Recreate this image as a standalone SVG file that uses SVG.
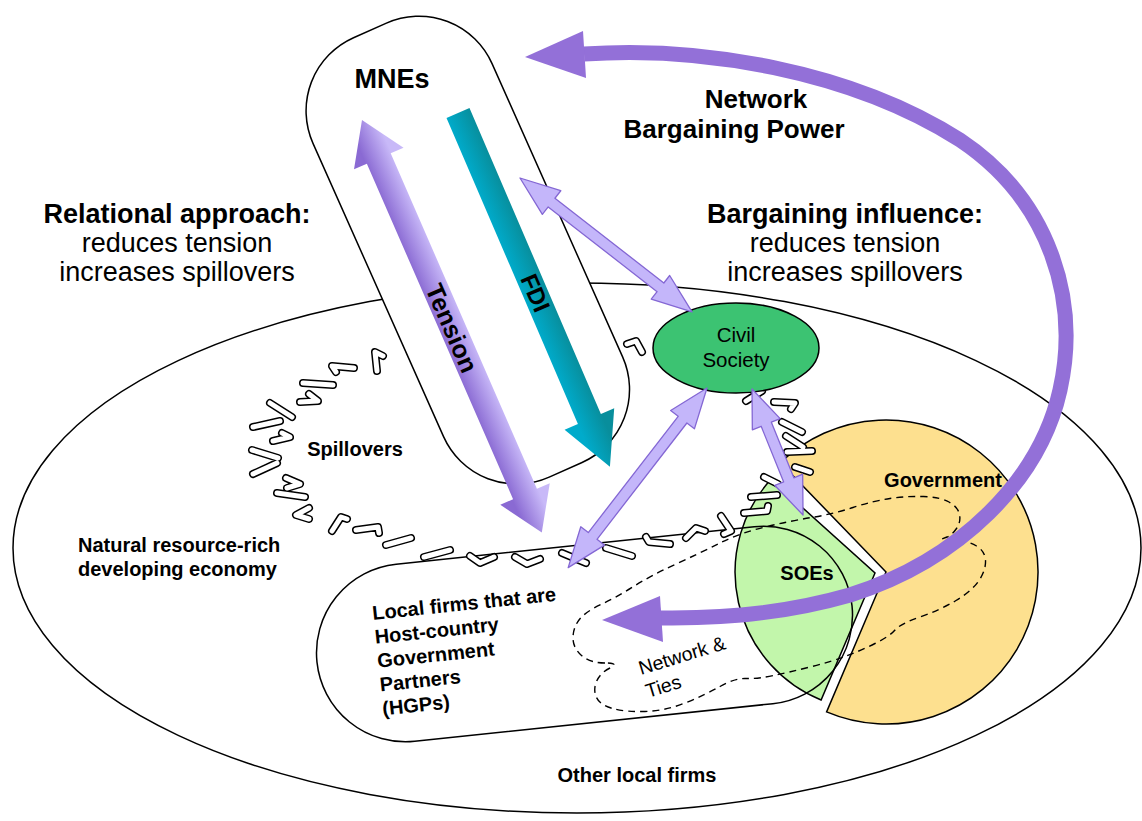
<svg xmlns="http://www.w3.org/2000/svg" xmlns:xlink="http://www.w3.org/1999/xlink" width="1142" height="821" viewBox="0 0 1142 821">
<style>
.ol{fill:none;stroke:#000;stroke-width:1.5}
.t{font-family:"Liberation Sans",Arial,Helvetica,sans-serif;fill:#000}
.b{font-weight:bold}
.dbl{fill:#C4B6FA;stroke:#8467D4;stroke-width:1.3;stroke-linejoin:round}
.spo{fill:none;stroke:#000;stroke-width:8;stroke-linecap:round;stroke-linejoin:round}
.spi{fill:none;stroke:#fff;stroke-width:5;stroke-linecap:round;stroke-linejoin:round}
</style>
<defs>
<linearGradient id="gT" gradientUnits="userSpaceOnUse" x1="0" y1="-14" x2="0" y2="14">
<stop offset="0" stop-color="#C8B9F8"/><stop offset="1" stop-color="#8A6AD3"/>
</linearGradient>
<linearGradient id="gF" gradientUnits="userSpaceOnUse" x1="0" y1="-13" x2="0" y2="13">
<stop offset="0" stop-color="#088E9C"/><stop offset="1" stop-color="#00ABCB"/>
</linearGradient>
<path id="spd" d="M377,371 L375,352 L383,356 M354,368 L332,366 L336,372 M303,383 L333,385 M300,402 L318,401 L309,394 M270,403 L292,417 M253,427 L280,421 M273,441 L290,437 L282,433 M252,450 L278,458 M253,474 L277,463 M286,478 L300,484 L287,488 M277,493 L305,497 M309,508 L296,515 L309,519 M332,531 L341,517 L347,519 M356,530 L378,527 L379,533 M386,545 L411,538 M424,557 L450,550 M470,556 L480,563 L494,557 M515,557 L527,564 L540,559 M562,553 L586,563 M606,548 L632,556 M646,537 L649,542 L670,544 M686,538 L696,528 L705,531 M721,516 L731,531 L724,534 M744,513 L767,511 L768,506 M751,497 L777,495 M764,477 L778,484 M746,401 L762,391 M774,402 L795,403 L791,409 M782,422 L802,432 M786,436 L803,447 M787,452 L812,451 M795,467 L810,472 M627,344 L636,341 L642,352"/>
</defs>
<rect width="1142" height="821" fill="#fff"/>
<g id="economy">
<ellipse cx="577" cy="548" rx="564" ry="265" fill="#fff" stroke="#000" stroke-width="1.5"/>
</g>
<g id="government">
<path d="M886,572 L780.4,462.7 A152,152 0 1 1 826.6,711.9 Z" fill="#FDE08F" stroke="#000" stroke-width="1.5"/>
</g>
<g id="soes">
<path d="M875,573 L821.1,700 A138,138 0 0 1 771,479.3 Z" fill="#C2F6AB" stroke="#000" stroke-width="1.5"/>
</g>
<g id="hgps">
<rect x="315.5" y="545" width="538" height="178" rx="89" class="ol" transform="rotate(-6 584.5 634)"/>
</g>
<g id="network-ties">
<path d="M605,663 Q590,663 581.5,655.5 Q573,648 573,638 Q573,628 579,620 Q585,612 601,604.5 Q617,597 633.5,586.5 Q650,576 675,564.5 Q700,553 720,543 Q740,533 765,527 Q790,521 811.5,517.5 Q833,514 853,507.5 Q873,501 890,498.5 Q907,496 923.5,496.5 Q940,497 949,502 Q958,507 959.5,514.5 Q961,522 956.5,528.5 Q952,535 947,537 L942,539 L955,540 Q968,541 976.5,546 Q985,551 985.5,560.5 Q986,570 979,580.5 Q972,591 956,600.5 Q940,610 920,617 Q900,624 895,630 Q890,636 875,643.5 Q860,651 845,656.5 Q830,662 810,667 Q790,672 773.5,675.5 Q757,679 746,678.5 Q735,678 720,686.5 Q705,695 685,703 Q665,711 645,711.5 Q625,712 612.5,708.5 Q600,705 596.5,697.5 Q593,690 596.5,681.5 Q600,673 610,668 Q620,663 605,663 Z" fill="none" stroke="#000" stroke-width="1.4" stroke-dasharray="7 5"/>
</g>
<g id="spillovers">
<use xlink:href="#spd" class="spo"/>
<use xlink:href="#spd" class="spi"/>
</g>
<g id="mnes">
<rect x="369.8" y="9.6" width="196" height="481" rx="80" fill="#fff" stroke="#000" stroke-width="1.5" transform="rotate(-24 467.8 250.1)"/>
</g>
<g id="civil-society">
<ellipse cx="736" cy="348" rx="83" ry="45" fill="#3CC372" stroke="#000" stroke-width="1.5"/>
</g>
<g id="connectors">
<path d="M0,0 L42,-27 L42,-13 L408,-13 L408,-27 L450,0 L408,27 L408,13 L42,13 L42,27 Z" fill="url(#gT)" transform="translate(362,120) rotate(66.45)"/>
<path d="M0,-12.5 L333,-12.5 L333,-27 L385,0 L333,27 L333,12.5 L0,12.5 Z" fill="url(#gF)" transform="translate(458,113) rotate(66.76)"/>
<path class="dbl" d="M0,0 L40,-15 L40,-5.5 L178,-5.5 L178,-15 L218,0 L178,15 L178,5.5 L40,5.5 L40,15 Z" transform="translate(520,178) rotate(37.9)"/>
<path class="dbl" d="M0,0 L40,-15 L40,-5.5 L187,-5.5 L187,-15 L227,0 L187,15 L187,5.5 L40,5.5 L40,15 Z" transform="translate(707,388) rotate(127.7)"/>
<path class="dbl" d="M0,0 L38,-15 L38,-5.5 L98,-5.5 L98,-15 L136,0 L98,15 L98,5.5 L38,5.5 L38,15 Z" transform="translate(752,389) rotate(67.96)"/>
<g id="bargaining-power" fill="#9370D8">
<path d="M584,54 C700,46 850,70 960,140 C1050,200 1080,300 1060,390 C1040,480 960,560 850,595 C780,615 720,618 659,618" fill="none" stroke="#9370D8" stroke-width="15"/>
<polygon points="525,57 583,31 586,78"/>
<polygon points="602,620 660,596 663,642"/>
</g>
</g>
<g id="labels">
<text class="t b" x="392" y="88" font-size="27" text-anchor="middle">MNEs</text>
<text class="t b" x="756" y="108" font-size="26" text-anchor="middle">Network</text>
<text class="t b" x="734" y="138" font-size="26" text-anchor="middle">Bargaining Power</text>
<text class="t b" x="177" y="223" font-size="27" text-anchor="middle">Relational approach:</text>
<text class="t" x="177" y="252" font-size="27" text-anchor="middle">reduces tension</text>
<text class="t" x="177" y="281" font-size="27" text-anchor="middle">increases spillovers</text>
<text class="t b" x="845" y="223" font-size="27" text-anchor="middle">Bargaining influence:</text>
<text class="t" x="845" y="252" font-size="27" text-anchor="middle">reduces tension</text>
<text class="t" x="845" y="281" font-size="27" text-anchor="middle">increases spillovers</text>
<text class="t b" font-size="25" text-anchor="middle" transform="translate(452,328) rotate(66.45)" x="0" y="9">Tension</text>
<text class="t b" font-size="24" text-anchor="middle" transform="translate(535,293) rotate(66.76)" x="0" y="8">FDI</text>
<text class="t" x="736" y="342" font-size="20.5" text-anchor="middle">Civil</text>
<text class="t" x="736" y="367" font-size="20.5" text-anchor="middle">Society</text>
<text class="t b" x="355" y="456" font-size="20" text-anchor="middle">Spillovers</text>
<text class="t b" x="78" y="552" font-size="20">Natural resource-rich</text>
<text class="t b" x="78" y="576" font-size="20">developing economy</text>
<text class="t b" x="943" y="487" font-size="20" text-anchor="middle">Government</text>
<text class="t b" x="807" y="580" font-size="20" text-anchor="middle">SOEs</text>
<g transform="rotate(-6 373 620)">
<text class="t b" x="373" y="620" font-size="20">Local firms that are</text>
<text class="t b" x="373" y="644" font-size="20">Host-country</text>
<text class="t b" x="373" y="668" font-size="20">Government</text>
<text class="t b" x="373" y="692" font-size="20">Partners</text>
<text class="t b" x="373" y="716" font-size="20">(HGPs)</text>
</g>
<g transform="rotate(-17 641 675)">
<text class="t" x="641" y="675" font-size="19.5">Network &amp;</text>
<text class="t" x="641" y="699" font-size="19.5">Ties</text>
</g>
<text class="t b" x="637" y="782" font-size="20" text-anchor="middle">Other local firms</text>
</g>
</svg>
